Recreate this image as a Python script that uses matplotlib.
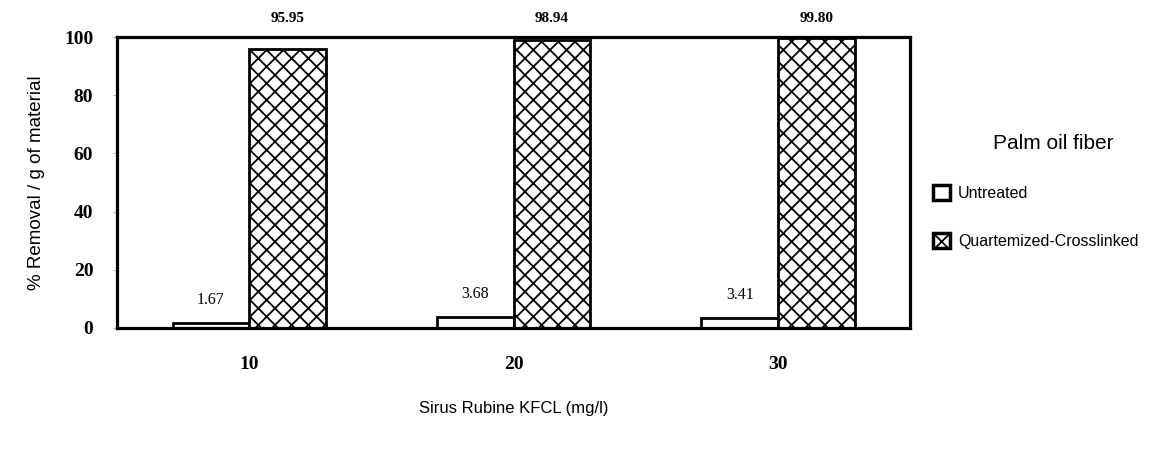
"""Removal of Sirus Rubine KFCL by palm oil fiber, untreated vs modified."""

import matplotlib.pyplot as plt
import numpy as np

concentrations = ["10", "20", "30"]
untreated = [1.67, 3.68, 3.41]
quaternized = [95.95, 98.94, 99.80]
series_names = ["Untreated", "Quartemized-Crosslinked"]
y_ticks = [0, 20, 40, 60, 80, 100]

SERIF = ["Liberation Serif", "DejaVu Serif"]
SANS = ["Liberation Sans", "DejaVu Sans"]


def main() -> None:
    plt.rcParams["hatch.linewidth"] = 1.3
    fig = plt.figure(figsize=(11.64, 4.49), dpi=100)
    ax = fig.add_axes([0.1005, 0.2695, 0.6815, 0.648])

    x = np.arange(len(concentrations)) + 0.5
    width = 0.29
    b1 = ax.bar(x - width / 2, untreated, width, color="white",
                edgecolor="black", linewidth=2)
    b2 = ax.bar(x + width / 2, quaternized, width, color="white",
                edgecolor="black", linewidth=2, hatch="xx")

    for xi, val in zip(x - width / 2, untreated):
        ax.text(xi, val + 8, f"{val:.2f}", ha="center", va="center",
                family=SERIF, fontsize=11.5)
    for xi, val in zip(x + width / 2, quaternized):
        ax.text(xi, 106.5, f"{val:.2f}", ha="center", va="center",
                family=SERIF, fontsize=11, weight="bold", clip_on=False)

    ax.set_xlim(0, 3)
    ax.set_ylim(0, 100)
    ax.set_xticks(x, concentrations)
    ax.set_yticks(y_ticks)
    ax.tick_params(axis="x", length=0, pad=20)
    ax.tick_params(axis="y", length=3, width=0.6, pad=14, color="#999999")
    for label in ax.get_xticklabels() + ax.get_yticklabels():
        label.set_fontfamily(SERIF)
        label.set_fontsize(14)
        label.set_fontweight("bold")
    for spine in ax.spines.values():
        spine.set_linewidth(2.3)

    ax.set_xlabel("Sirus Rubine KFCL (mg/l)", family=SANS, fontsize=12,
                  labelpad=20)
    ax.set_ylabel("% Removal / g of material", family=SANS, fontsize=13.5,
                  labelpad=14)

    leg = ax.legend([b1, b2], series_names, title="Palm oil fiber",
                    loc="center left", bbox_to_anchor=(1.01, 0.47),
                    frameon=False, handlelength=1.1, handleheight=1.1,
                    handletextpad=0.5, labelspacing=2.0,
                    prop={"family": SANS, "size": 11.5},
                    title_fontproperties={"family": SANS, "size": 15})
    leg.get_title().set_position((60, 0))
    leg._legend_box.align = "left"
    for handle in leg.legend_handles:
        handle.set_linewidth(2.5)

    fig.savefig("out.png", dpi=100)
    plt.close(fig)


if __name__ == "__main__":
    main()
